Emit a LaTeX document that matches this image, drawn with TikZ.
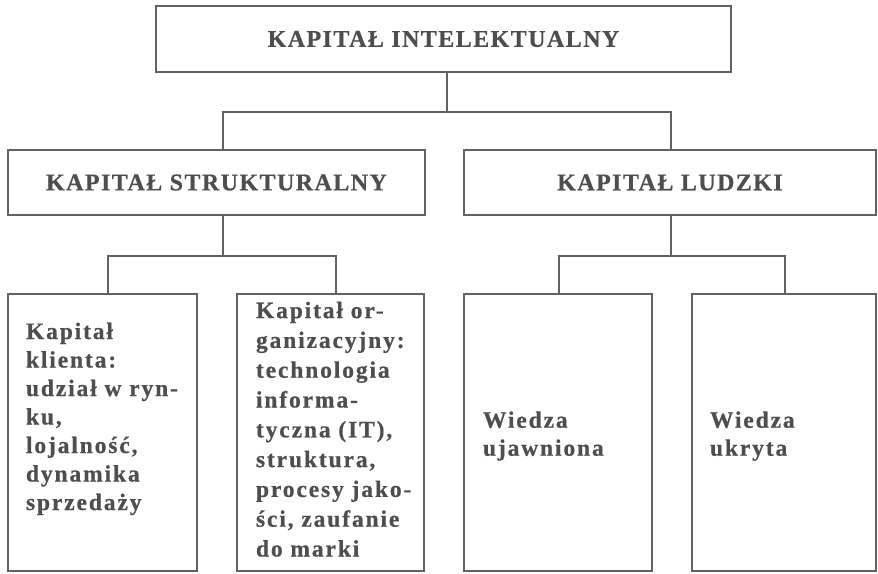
\documentclass[tikz,border=0pt]{standalone}
\usepackage{fontspec}
\setmainfont{Liberation Serif}
\newfontfamily\trackedserif{Liberation Serif}[LetterSpace=8, BoldFeatures={FakeBold=0.6}]
\newfontfamily\headserif{Liberation Serif}[LetterSpace=6, BoldFeatures={FakeBold=0.6}]
\begin{document}
\begin{tikzpicture}[x=1pt,y=-1pt,
  line width=2pt,
  every node/.style={inner sep=0pt},
  box/.style={draw=linegray, line width=2pt, rectangle},
  head/.style={box, text=textgray,
    font=\headserif\bfseries\fontsize{24}{28}\selectfont},
  body/.style={text=textgray, align=left, anchor=base west},
  link/.style={draw=linegray, line width=2pt}]
\definecolor{linegray}{HTML}{626262}
\definecolor{textgray}{HTML}{4E4E4E}
\useasboundingbox (0,0) rectangle (878,573);

% top level
\node[head, minimum width=575, minimum height=66] (top) at (443.5,39) {KAPITAŁ INTELEKTUALNY};

% second level
\node[head, minimum width=417, minimum height=65] (ks) at (216.5,182.5) {KAPITAŁ STRUKTURALNY};
\node[head, minimum width=412, minimum height=65] (kl) at (670,182.5) {KAPITAŁ LUDZKI};

% third level boxes
\node[box, minimum width=189, minimum height=277] (b1) at (102.5,432.5) {};
\node[box, minimum width=187, minimum height=277] (b2) at (330.5,432.5) {};
\node[box, minimum width=188, minimum height=277] (b3) at (558,432.5) {};
\node[box, minimum width=184, minimum height=277] (b4) at (784,432.5) {};

% texts of the third level (placed by the baseline of their last line)
\node[body, font=\trackedserif\bfseries\fontsize{23.5}{28.5}\selectfont] (t1) at (25,510)
  {Kapitał\\klienta:\\udział w ryn-\\ku,\\lojalność,\\dynamika\\sprzedaży};
\node[body, font=\trackedserif\bfseries\fontsize{23.5}{29.8}\selectfont] (t2) at (255,556.5)
  {Kapitał or-\\ganizacyjny:\\technologia\\informa-\\tyczna (IT),\\struktura,\\procesy jako-\\ści, zaufanie\\do marki};
\node[body, font=\trackedserif\bfseries\fontsize{23.5}{28}\selectfont] (t3) at (482,455.7)
  {Wiedza\\ujawniona};
\node[body, font=\trackedserif\bfseries\fontsize{23.5}{28}\selectfont] (t4) at (709,455.7)
  {Wiedza\\ukryta};

% connectors
\draw[link] ([xshift=3]top.south) -- ++(0,39) coordinate (j0);
\draw[link] ([xshift=6.5]ks.north) |- (j0) -| ([xshift=1]kl.north);
\draw[link] ([xshift=6.5]ks.south) -- ++(0,40) coordinate (j1);
\draw[link] ([xshift=5.5]b1.north) |- (j1) -| ([xshift=5.5]b2.north);
\draw[link] ([xshift=1]kl.south) -- ++(0,40) coordinate (j2);
\draw[link] ([xshift=0.5]b3.north) |- (j2) -| ([xshift=1]b4.north);
\end{tikzpicture}
\end{document}
